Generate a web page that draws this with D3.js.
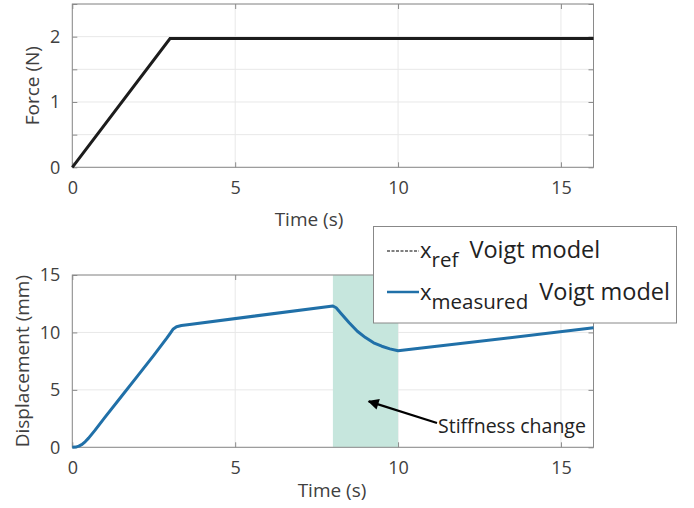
<!DOCTYPE html>
<html><head><meta charset="utf-8">
<script src="https://cdn.jsdelivr.net/npm/d3@7"></script>
<style>body{margin:0;background:#fff}svg{display:block;font-family:"Open Sans",sans-serif}</style>
</head><body><svg id="c" width="694" height="508"></svg>
<script>
// ---- data ----
const forceTime = [0, 3, 16];
const forceValues = [0, 1.97, 1.97];
const dispTime = [0, 0.1, 0.2, 0.3, 0.4, 0.5, 0.7, 1, 1.5, 2, 2.5, 2.9, 3.0, 3.1, 3.2, 3.35, 3.6, 8, 8.1, 8.25, 8.5, 8.75, 9, 9.25, 9.5, 9.75, 10, 16];
const dispValues = [0, 0.02, 0.1, 0.25, 0.5, 0.8, 1.5, 2.6, 4.4, 6.2, 8.0, 9.5, 9.9, 10.3, 10.5, 10.6, 10.7, 12.3, 12.15, 11.65, 10.85, 10.1, 9.55, 9.1, 8.8, 8.57, 8.4, 10.4];
const shadeRange = [8, 10];
const xTicks = [0, 5, 10, 15];
const forceTicks = [0, 0.5, 1, 1.5, 2, 2.5];
const forceTickLabels = ["0", "", "1", "", "2", ""];
const dispTicks = [0, 5, 10, 15];
const legendLabels = [["x", "ref", " Voigt model"], ["x", "measured", " Voigt model"]];
const annotation = "Stiffness change";
const annotationTarget = [9.1, 4.0];

const svg = d3.select("#c");
const L = 72.3, R = 593.5;
const axisCol = "#8a8a8a", textCol = "#404040", gridCol = "#e8e8e8";

function panel(y0, y1, yDomain, yTicks, yLabels, yTitle, yTitleX) {
  const x = d3.scaleLinear().domain([0, 16]).range([L, R]);
  const y = d3.scaleLinear().domain(yDomain).range([y1, y0]);
  const g = svg.append("g");
  g.selectAll(".gx").data(xTicks).join("line").attr("x1", d => x(d)).attr("x2", d => x(d))
    .attr("y1", y0).attr("y2", y1).attr("stroke", gridCol).attr("stroke-width", 1);
  g.selectAll(".gy").data(yTicks).join("line").attr("y1", d => y(d)).attr("y2", d => y(d))
    .attr("x1", L).attr("x2", R).attr("stroke", gridCol).attr("stroke-width", 1);
  return {x, y, g, draw() {
    g.append("rect").attr("x", L).attr("y", y0).attr("width", R - L).attr("height", y1 - y0)
      .attr("fill", "none").attr("stroke", axisCol).attr("stroke-width", 1);
    const ax = d3.axisBottom(x).tickValues(xTicks).tickSize(-5).tickPadding(14).tickFormat(d3.format("d"));
    g.append("g").attr("transform", `translate(0,${y1})`).call(ax);
    g.append("g").attr("transform", `translate(0,${y0})`).call(d3.axisTop(x).tickValues(xTicks).tickSize(-5).tickFormat(""));
    const ay = d3.axisLeft(y).tickValues(yTicks).tickSize(-5).tickPadding(12).tickFormat((d, i) => yLabels[i]);
    g.append("g").attr("transform", `translate(${L},0)`).call(ay);
    g.append("g").attr("transform", `translate(${R},0)`).call(d3.axisRight(y).tickValues(yTicks).tickSize(-5).tickFormat(""));
    g.selectAll(".domain").remove();
    g.selectAll(".tick line").attr("stroke", axisCol);
    g.selectAll(".tick text").attr("fill", textCol).attr("font-size", 18).attr("font-family", "Open Sans");
    g.append("text").attr("transform", `translate(${yTitleX},${(y0 + y1) / 2}) rotate(-90)`)
      .attr("text-anchor", "middle").attr("fill", textCol).attr("font-size", 19).text(yTitle);
  }};
}

// top panel
const p1 = panel(4, 167.3, [0, 2.5], forceTicks, forceTickLabels, "Force (N)", 39);
p1.draw();
p1.g.append("path").datum(forceTime.map((t, i) => [t, forceValues[i]]))
  .attr("d", d3.line().x(d => p1.x(d[0])).y(d => p1.y(d[1])))
  .attr("fill", "none").attr("stroke", "#1c1c1c").attr("stroke-width", 3);
svg.append("text").attr("x", 309).attr("y", 226).attr("text-anchor", "middle").attr("fill", textCol)
  .attr("font-size", 19).text("Time (s)");

// bottom panel
const p2 = panel(275, 447.3, [0, 15], dispTicks, dispTicks.map(String), "Displacement (mm)", 28.5);
p2.g.append("rect").attr("x", p2.x(shadeRange[0])).attr("y", p2.y(15))
  .attr("width", p2.x(shadeRange[1]) - p2.x(shadeRange[0])).attr("height", p2.y(0) - p2.y(15))
  .attr("fill", "#c6e6dd");
p2.draw();
p2.g.append("path").datum(dispTime.map((t, i) => [t, dispValues[i]]))
  .attr("d", d3.line().x(d => p2.x(d[0])).y(d => p2.y(d[1])))
  .attr("fill", "none").attr("stroke", "#2070a8").attr("stroke-width", 3).attr("stroke-linejoin", "round");
svg.append("text").attr("x", 332).attr("y", 497).attr("text-anchor", "middle").attr("fill", textCol)
  .attr("font-size", 19).text("Time (s)");

// annotation arrow
const defs = svg.append("defs");
defs.append("marker").attr("id", "ah").attr("viewBox", "0 0 10 10").attr("refX", 9).attr("refY", 5)
  .attr("markerWidth", 6).attr("markerHeight", 5).attr("orient", "auto")
  .append("path").attr("d", "M0,0 L10,5 L0,10 z").attr("fill", "#000");
svg.append("line").attr("x1", 437).attr("y1", 423).attr("x2", p2.x(annotationTarget[0])).attr("y2", p2.y(annotationTarget[1]))
  .attr("stroke", "#000").attr("stroke-width", 2.2).attr("marker-end", "url(#ah)");
svg.append("text").attr("x", 438).attr("y", 433).attr("fill", "#222").attr("font-size", 19.5).text(annotation);

// legend
const lg = svg.append("g");
lg.append("rect").attr("x", 373.5).attr("y", 226.5).attr("width", 303).attr("height", 96.5)
  .attr("fill", "#fff").attr("stroke", "#888").attr("stroke-width", 1);
const rows = [{y: 251, base: 257.5, dash: "3,1.5", col: "#000", w: 1.2}, {y: 292, base: 300, dash: null, col: "#2070a8", w: 2.5}];
rows.forEach((r, i) => {
  lg.append("line").attr("x1", 387).attr("x2", 419).attr("y1", r.y).attr("y2", r.y)
    .attr("stroke", r.col).attr("stroke-width", r.w).attr("stroke-dasharray", r.dash);
  const t = lg.append("text").attr("x", 420).attr("y", r.base).attr("fill", "#222").attr("font-size", 23.5);
  t.append("tspan").attr("font-size", 22).text(legendLabels[i][0]);
  t.append("tspan").attr("dy", 9).attr("font-size", 20.5).text(legendLabels[i][1]);
  t.append("tspan").attr("dy", -9).attr("dx", 5).text(legendLabels[i][2]);
});
</script></body></html>
